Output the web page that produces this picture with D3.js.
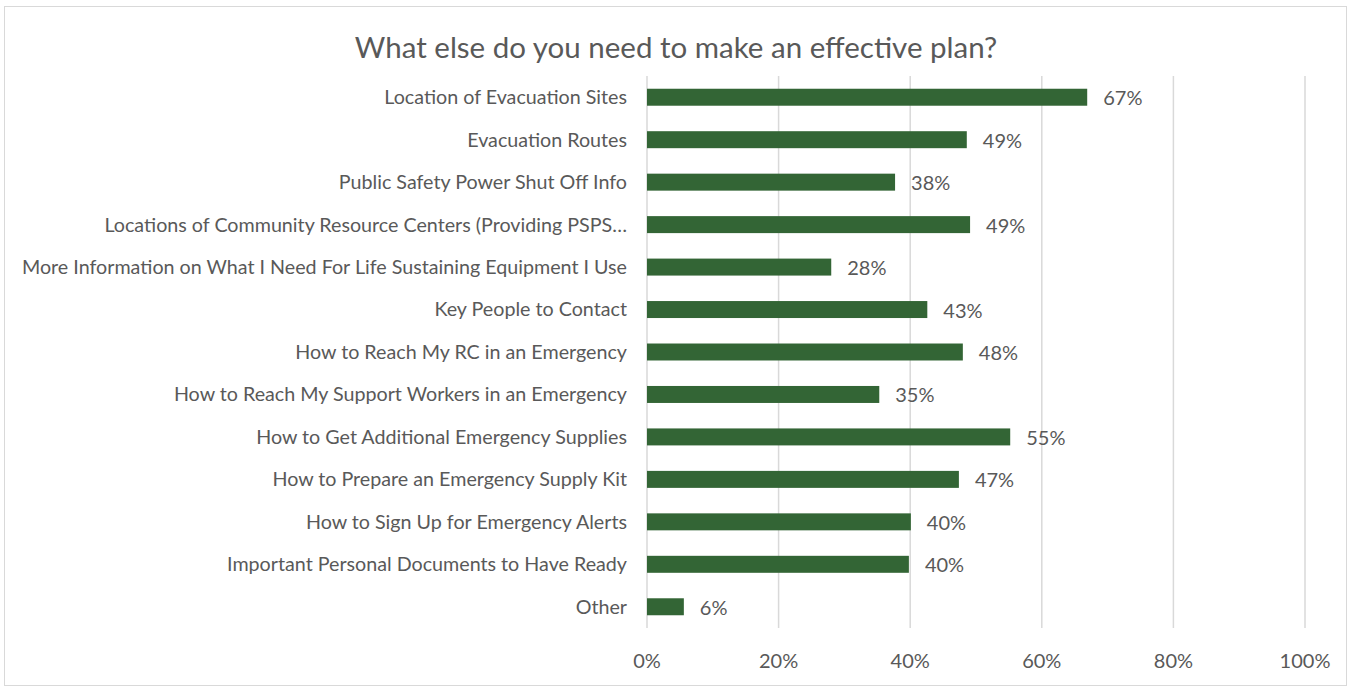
<!DOCTYPE html>
<html>
<head>
<meta charset="utf-8">
<script src="https://cdn.jsdelivr.net/npm/d3@7"></script>
<style>
  body { margin: 0; background: #fff; }
  text { font-family: Lato, sans-serif; fill: #595959; }
</style>
</head>
<body>
<svg id="chart" width="1351" height="689"></svg>
<script>
const categories = [
  "Location of Evacuation Sites",
  "Evacuation Routes",
  "Public Safety Power Shut Off Info",
  "Locations of Community Resource Centers (Providing PSPS…",
  "More Information on What I Need For Life Sustaining Equipment I Use",
  "Key People to Contact",
  "How to Reach My RC in an Emergency",
  "How to Reach My Support Workers in an Emergency",
  "How to Get Additional Emergency Supplies",
  "How to Prepare an Emergency Supply Kit",
  "How to Sign Up for Emergency Alerts",
  "Important Personal Documents to Have Ready",
  "Other"
];
const values = [0.669, 0.486, 0.377, 0.491, 0.280, 0.426, 0.480, 0.353, 0.552, 0.474, 0.401, 0.398, 0.056];
const ticks = [0, 0.2, 0.4, 0.6, 0.8, 1.0];

const svg = d3.select("#chart");
const plotL = 647, plotR = 1305, plotT = 76, plotB = 628;

svg.append("rect")
   .attr("x", 4.5).attr("y", 6.5).attr("width", 1342).attr("height", 679)
   .attr("fill", "#fff").attr("stroke", "#d9d9d9");

svg.append("text")
   .attr("x", 676).attr("y", 58)
   .attr("text-anchor", "middle")
   .style("font-size", "29.5px")
   .text("What else do you need to make an effective plan?");

const x = d3.scaleLinear().domain([0, 1]).range([plotL, plotR]);
const y = d3.scaleBand().domain(categories).range([plotT, plotB]).paddingInner(0.6).paddingOuter(0.3);

// gridlines
svg.append("g").selectAll("line")
   .data(ticks)
   .enter().append("line")
   .attr("x1", d => x(d)).attr("x2", d => x(d))
   .attr("y1", plotT).attr("y2", plotB)
   .attr("stroke", "#d9d9d9").attr("stroke-width", 1.5);

// tick labels
svg.append("g").selectAll("text")
   .data(ticks)
   .enter().append("text")
   .attr("x", d => x(d)).attr("y", 668)
   .attr("text-anchor", "middle")
   .style("font-size", "20px")
   .text(d => d3.format(".0%")(d));

const rows = svg.append("g").selectAll("g")
   .data(categories.map((c, i) => ({ cat: c, val: values[i] })))
   .enter().append("g");

rows.append("rect")
   .attr("x", x(0))
   .attr("y", d => y(d.cat))
   .attr("width", d => x(d.val) - x(0))
   .attr("height", y.bandwidth())
   .attr("fill", "#336535");

rows.append("text")
   .attr("x", d => x(d.val) + 16)
   .attr("y", d => y(d.cat) + y.bandwidth() / 2)
   .attr("dy", "0.4em")
   .style("font-size", "20px")
   .text(d => d3.format(".0%")(d.val));

rows.append("text")
   .attr("x", 627)
   .attr("y", d => y(d.cat) + y.bandwidth() / 2)
   .attr("dy", "0.35em")
   .attr("text-anchor", "end")
   .style("font-size", "19.7px")
   .text(d => d.cat);
</script>
</body>
</html>
